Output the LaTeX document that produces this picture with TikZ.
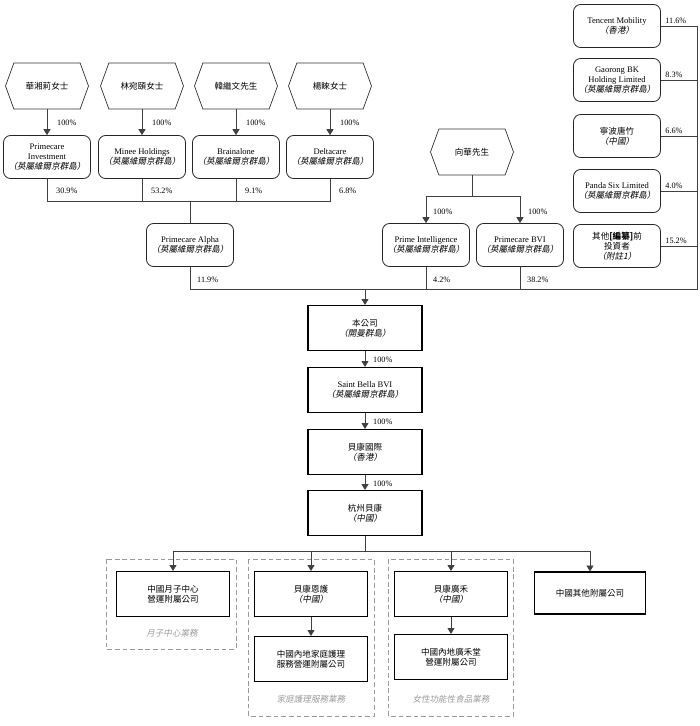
\documentclass[tikz,border=0pt]{standalone}
\usepackage{fontspec}
\setmainfont{Liberation Serif}
\newfontfamily\cjk{Noto Sans CJK TC}
\newfontfamily\cjkit[FakeSlant=0.2]{Noto Sans CJK TC}
\usetikzlibrary{calc,arrows.meta,shapes.symbols}
\def\cn#1{{\cjk #1}}
\def\cnit#1{{\cjkit #1}}
\def\boxfont{\fontsize{7.3}{8.6}\selectfont}

\tikzset{
	owner/.style={signal, signal to=west and east, signal pointer angle=140, draw=black!80, line width=0.6pt, minimum width=2.49cm, minimum height=1.38cm, inner sep=1pt, font=\boxfont},
	holdco/.style={draw=black!85, rounded corners=6pt, line width=0.7pt, minimum width=2.61cm, minimum height=1.29cm, align=center, inner sep=1pt, font=\boxfont},
	mainco/.style={draw=black, line width=1pt, minimum width=3.42cm, minimum height=1.35cm, align=center, inner sep=1pt, font=\boxfont},
	subco/.style={mainco, minimum width=3.39cm},
	segment/.style={draw=black!40, dash pattern=on 4pt off 2.5pt, line width=0.7pt},
	seglabel/.style={text=black!40, font=\boxfont},
	pct/.style={anchor=west, inner sep=0pt, font=\fontsize{7}{8}\selectfont},
	pctup/.style={pct, anchor=south west, inner sep=1pt},
	link/.style={draw=black!75, line width=0.6pt},
	arr/.style={link, -{Triangle[length=5pt,width=6pt]}},
}

\begin{document}
\begin{tikzpicture}[x=0.03cm, y=-0.03cm]
		%%%%% START %%%%%
		\useasboundingbox (0, 0) rectangle (700, 726);
		
		% shareholders on top
		\node[owner] (hua) at (47, 86) {\cn{華湘莉女士}};
		\node[owner] (lin) at (142, 86) {\cn{林宛頤女士}};
		\node[owner] (han) at (236, 86) {\cn{韓繼文先生}};
		\node[owner] (yang) at (330, 86) {\cn{楊睞女士}};
		
		\node[holdco] (pinv) at (47, 157) {Primecare\\Investment\\\cnit{（英屬維爾京群島）}};
		\node[holdco] (minee) at (142, 157) {Minee Holdings\\\cnit{（英屬維爾京群島）}};
		\node[holdco] (brain) at (236, 157) {Brainalone\\\cnit{（英屬維爾京群島）}};
		\node[holdco] (delta) at (330, 157) {Deltacare\\\cnit{（英屬維爾京群島）}};
		
		\draw[arr] (hua.south) -- (pinv.north);
		\draw[arr] (lin.south) -- (minee.north);
		\draw[arr] (han.south) -- (brain.north);
		\draw[arr] (yang.south) -- (delta.north);
		\node[pct] (p1) at (57, 123) {100\%};
		\node[pct] (p2) at (152, 123) {100\%};
		\node[pct] (p3) at (246, 123) {100\%};
		\node[pct] (p4) at (340, 123) {100\%};
		
		\coordinate (j1) at (190, 201);
		\draw[link] (pinv.south) -- (pinv.south |- j1) -- (delta.south |- j1) -- (delta.south);
		\draw[link] (minee.south) -- (minee.south |- j1);
		\draw[link] (brain.south) -- (brain.south |- j1);
		\node[pct] (p5) at (56, 191) {30.9\%};
		\node[pct] (p6) at (151, 191) {53.2\%};
		\node[pct] (p7) at (245, 191) {9.1\%};
		\node[pct] (p8) at (339, 191) {6.8\%};
		
		\node[holdco] (alpha) at (190, 245) {Primecare Alpha\\\cnit{（英屬維爾京群島）}};
		\draw[link] (j1) -- (alpha.north);
		
		% xiang
		\node[owner] (xiang) at (472, 152) {\cn{向華先生}};
		\coordinate (j2) at (472, 196);
		\node[holdco] (pintel) at (426, 245) {Prime Intelligence\\\cnit{（英屬維爾京群島）}};
		\node[holdco] (pbvi) at (520, 245) {Primecare BVI\\\cnit{（英屬維爾京群島）}};
		\draw[link] (xiang.south) -- (j2);
		\draw[arr] (j2) -| (pintel.north);
		\draw[arr] (j2) -| (pbvi.north);
		\node[pct] (p9) at (433, 212) {100\%};
		\node[pct] (p10) at (528, 212) {100\%};
		
		% pre-ipo investors
		\node[holdco] (tencent) at (617, 26) {Tencent Mobility\\\cnit{（香港）}};
		\node[holdco] (gaorong) at (617, 80) {Gaorong BK\\Holding Limited\\\cnit{（英屬維爾京群島）}};
		\node[holdco] (ningbo) at (617, 136) {\cn{寧波唐竹}\\\cnit{（中國）}};
		\node[holdco] (panda) at (617, 191) {Panda Six Limited\\\cnit{（英屬維爾京群島）}};
		\node[holdco] (others) at (617, 246) {\cn{其他}{\cjk\bfseries[編纂]}\cn{前}\\\cn{投資者}\\\cnit{（附註1）}};
		
		\coordinate (j3) at (365, 289);
		\coordinate (rcol) at (697, 289);
		\draw[link] (alpha.south) -- (alpha.south |- j3) -- (rcol) -- (rcol |- tencent.east) -- (tencent.east);
		\draw[link] (pintel.south) -- (pintel.south |- j3);
		\draw[link] (pbvi.south) -- (pbvi.south |- j3);
		\draw[link] (gaorong.east) -- (gaorong.east -| rcol);
		\draw[link] (ningbo.east) -- (ningbo.east -| rcol);
		\draw[link] (panda.east) -- (panda.east -| rcol);
		\draw[link] (others.east) -- (others.east -| rcol);
		\node[pct] (p11) at (197, 280) {11.9\%};
		\node[pct] (p12) at (433, 280) {4.2\%};
		\node[pct] (p13) at (527, 280) {38.2\%};
		\node[pctup] (p14) at (664, 25) {11.6\%};
		\node[pctup] (p15) at (664, 79) {8.3\%};
		\node[pctup] (p16) at (664, 135) {6.6\%};
		\node[pctup] (p17) at (664, 190) {4.0\%};
		\node[pctup] (p18) at (664, 245) {15.2\%};
		
		% the company and its chain
		\node[mainco] (bgs) at (365, 328) {\cn{本公司}\\\cnit{（開曼群島）}};
		\node[mainco] (sbbvi) at (365, 390) {Saint Bella BVI\\\cnit{（英屬維爾京群島）}};
		\node[mainco] (bkintl) at (365, 452) {\cn{貝康國際}\\\cnit{（香港）}};
		\node[mainco] (hzbk) at (365, 513) {\cn{杭州貝康}\\\cnit{（中國）}};
		\draw[arr] (j3) -- (bgs.north);
		\draw[arr] (bgs) -- (sbbvi);
		\draw[arr] (sbbvi) -- (bkintl);
		\draw[arr] (bkintl) -- (hzbk);
		\node[pct] (p19) at (373, 360) {100\%};
		\node[pct] (p20) at (373, 422) {100\%};
		\node[pct] (p21) at (373, 484) {100\%};
		
		% business segments
		\draw[segment] (106, 559) rectangle (236, 649);
		\draw[segment] (248, 559) rectangle (374, 716);
		\draw[segment] (388, 559) rectangle (513, 716);
		\node[seglabel] (l1) at (172, 633) {\cnit{月子中心業務}};
		\node[seglabel] (l2) at (311, 699) {\cnit{家庭護理服務業務}};
		\node[seglabel] (l3) at (451, 699) {\cnit{女性功能性食品業務}};
		
		\node[subco] (yuezi) at (173, 594) {\cn{中國月子中心}\\\cn{營運附屬公司}};
		\node[subco] (enhu) at (311, 594) {\cn{貝康恩護}\\\cnit{（中國）}};
		\node[subco] (jiating) at (311, 659) {\cn{中國內地家庭護理}\\\cn{服務營運附屬公司}};
		\node[subco] (guanghe) at (451, 594) {\cn{貝康廣禾}\\\cnit{（中國）}};
		\node[subco] (ghtang) at (451, 657) {\cn{中國內地廣禾堂}\\\cn{營運附屬公司}};
		\node[subco, minimum width=3.33cm, minimum height=1.26cm] (qita) at (590, 593) {\cn{中國其他附屬公司}};
		
		\coordinate (j4) at (365, 551);
		\draw[link] (hzbk.south) -- (j4);
		\draw[link] (yuezi.north |- j4) -- (qita.north |- j4);
		\draw[arr] (yuezi.north |- j4) -- (yuezi.north);
		\draw[arr] (enhu.north |- j4) -- (enhu.north);
		\draw[arr] (guanghe.north |- j4) -- (guanghe.north);
		\draw[arr] (qita.north |- j4) -- (qita.north);
		\draw[arr] (enhu) -- (jiating);
		\draw[arr] (guanghe) -- (ghtang);
		
		%%%%% END %%%%%
	\end{tikzpicture}
\end{document}
